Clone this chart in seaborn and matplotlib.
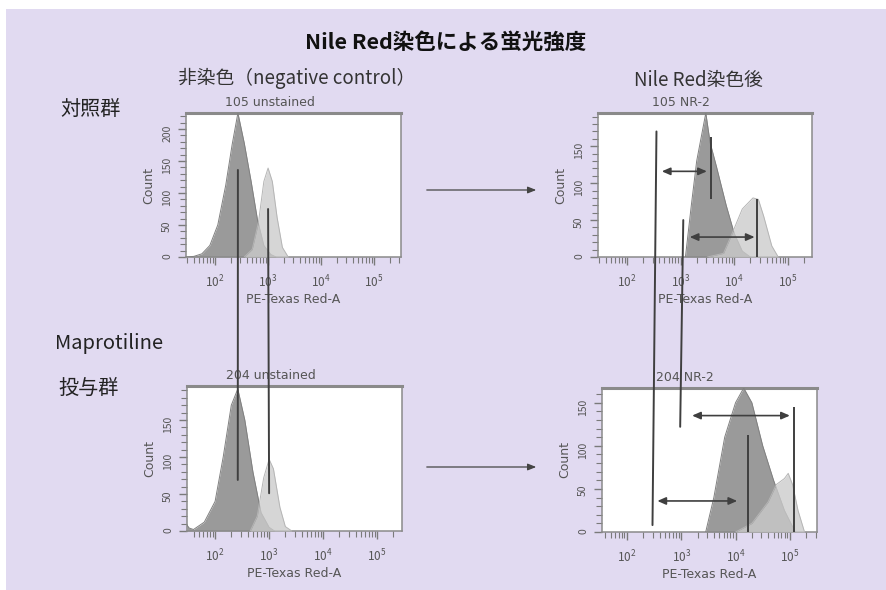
import numpy as np
import matplotlib
matplotlib.use("Agg")
import matplotlib.pyplot as plt
import seaborn as sns
from matplotlib.patches import Rectangle, ConnectionPatch, FancyArrowPatch
from matplotlib.ticker import LogLocator, MultipleLocator, NullFormatter

# ---- histogram data: log10(PE-Texas Red-A) and Count ----
# 105 unstained
tl_dark_lx = [1.45, 1.6, 1.75, 1.9, 2.05, 2.2, 2.32, 2.43, 2.55, 2.68, 2.8, 2.92, 3.05, 3.15]
tl_dark_ct = [0, 1, 5, 18, 50, 112, 175, 225, 178, 118, 58, 18, 4, 0]
tl_light_lx = [2.55, 2.7, 2.82, 2.92, 3.0, 3.08, 3.17, 3.27, 3.38]
tl_light_ct = [0, 12, 55, 118, 139, 118, 62, 15, 0]
# 204 unstained
bl_dark_lx = [1.48, 1.52, 1.6, 1.8, 2.0, 2.15, 2.3, 2.42, 2.55, 2.7, 2.85, 3.0, 3.1]
bl_dark_ct = [8, 4, 2, 12, 40, 100, 170, 192, 150, 80, 25, 5, 0]
bl_light_lx = [2.65, 2.78, 2.9, 3.0, 3.08, 3.2, 3.3, 3.42]
bl_light_ct = [0, 20, 72, 97, 84, 32, 6, 0]
# 105 NR-2
tr_dark_lx = [3.09, 3.2, 3.3, 3.47, 3.55, 3.67, 3.85, 4.0, 4.15, 4.3]
tr_dark_ct = [0, 70, 130, 195, 155, 122, 70, 32, 8, 0]
tr_light_lx = [3.5, 3.8, 3.95, 4.15, 4.35, 4.45, 4.55, 4.7, 4.82]
tr_light_ct = [0, 5, 30, 65, 80, 78, 55, 15, 0]
# 204 NR-2
br_dark_lx = [3.45, 3.6, 3.8, 4.0, 4.15, 4.3, 4.5, 4.7, 4.9, 5.1]
br_dark_ct = [0, 40, 110, 150, 167, 150, 100, 60, 25, 0]
br_light_lx = [4.0, 4.3, 4.6, 4.75, 4.9, 4.97, 5.05, 5.15, 5.27]
br_light_ct = [0, 10, 35, 55, 62, 68, 55, 25, 0]

# ---- gates / markers ----
tr_gate_lx = [3.57, 4.43]
tr_gate_top = [162, 78]
tr_gate_bot = [78, 0]
br_gate_lx = [4.22, 5.08]
br_gate_top = [112, 145]
br_gate_bot = [0, 0]
tr_arrow_y = [116, 27]
tr_arrow_lo = [2.65, 3.17]
tr_arrow_hi = [3.49, 4.38]
br_arrow_y = [135, 36]
br_arrow_lo = [3.2, 2.56]
br_arrow_hi = [5.0, 4.03]
# lines that run from the upper to the lower panel
left_link_lx_a = [2.43, 3.0]
left_link_ct_a = [136, 75]
left_link_lx_b = [2.42, 3.0]
left_link_ct_b = [69, 51]
right_link_lx_a = [2.55, 3.05]
right_link_ct_a = [170, 50]
right_link_lx_b = [2.47, 2.98]
right_link_ct_b = [8, 122]

titles = ["105 unstained", "204 unstained", "105 NR-2", "204 NR-2"]
xlims = [(1.45, 5.51), (1.48, 5.46), (1.46, 5.45), (1.54, 5.5)]
ylims = [225, 196, 195, 167]

sns.set_style("ticks")
plt.rcParams['font.family'] = ['Noto Sans CJK JP', 'DejaVu Sans']

W, H = 886, 590
fig = plt.figure(figsize=(W / 100, H / 100), dpi=100)
fig.patch.set_facecolor("white")
fig.add_artist(Rectangle((6 / W, 0), 1 - 6 / W, 1 - 9 / H, transform=fig.transFigure,
                         facecolor="#E1DAF1", edgecolor="none", zorder=-10))

def box(l, t, r, b):
    return [l / W, 1 - b / H, (r - l) / W, (b - t) / H]

ax_tl = fig.add_axes(box(186, 113, 401, 257))
ax_bl = fig.add_axes(box(187, 386, 402, 531))
ax_tr = fig.add_axes(box(598, 113, 812, 257))
ax_br = fig.add_axes(box(602, 388, 817, 532))
axes = [ax_tl, ax_bl, ax_tr, ax_br]

hists = [(tl_dark_lx, tl_dark_ct, tl_light_lx, tl_light_ct),
         (bl_dark_lx, bl_dark_ct, bl_light_lx, bl_light_ct),
         (tr_dark_lx, tr_dark_ct, tr_light_lx, tr_light_ct),
         (br_dark_lx, br_dark_ct, br_light_lx, br_light_ct)]

gray_txt = "#555555"
for i, ax in enumerate(axes):
    dlx, dct, llx, lct = hists[i]
    dx = 10 ** np.array(dlx)
    lx = 10 ** np.array(llx)
    ax.fill_between(dx, dct, color="#9a9a9a", lw=0, zorder=2)
    sns.lineplot(x=dx, y=dct, ax=ax, color="#808080", lw=0.7, zorder=3)
    ax.fill_between(lx, lct, color="#cbcbcb", alpha=0.78, lw=0, zorder=4)
    sns.lineplot(x=lx, y=lct, ax=ax, color="#b5b5b5", lw=0.7, zorder=5)

    ax.set_xscale("log")
    ax.set_xlim(10 ** xlims[i][0], 10 ** xlims[i][1])
    ax.set_ylim(0, ylims[i])
    ax.set_facecolor("white")
    ax.xaxis.set_major_locator(LogLocator(base=10, numticks=10))
    ax.xaxis.set_minor_locator(LogLocator(base=10, subs=np.arange(2, 10), numticks=10))
    ax.xaxis.set_minor_formatter(NullFormatter())
    ax.yaxis.set_major_locator(MultipleLocator(50))
    ax.yaxis.set_minor_locator(MultipleLocator(10))
    ax.tick_params(which="both", direction="out", color="#7a7a7a", labelcolor=gray_txt)
    ax.tick_params(which="major", length=6, width=1)
    ax.tick_params(which="minor", length=4, width=0.8)
    ax.tick_params(axis="x", labelsize=8.5, pad=6)
    ax.tick_params(axis="y", labelsize=7.5, labelrotation=90, pad=4)
    for s in ax.spines.values():
        s.set_color("#8a8a8a")
        s.set_linewidth(1.1)
    ax.spines["top"].set_linewidth(2.2)
    ax.set_xlabel("PE-Texas Red-A", fontsize=9, color=gray_txt, family="DejaVu Sans", labelpad=2)
    ax.set_ylabel("Count", fontsize=9, color=gray_txt, family="DejaVu Sans", labelpad=5)
    ax.text(0.18 if i < 2 else 0.25, 1.025, titles[i], transform=ax.transAxes,
            ha="left", va="bottom", fontsize=9, color=gray_txt, family="DejaVu Sans")

line_c = "#3f3f3f"
# gates and range arrows
for ax, glx, gtop, gbot, ay, alo, ahi in [
        (ax_tr, tr_gate_lx, tr_gate_top, tr_gate_bot, tr_arrow_y, tr_arrow_lo, tr_arrow_hi),
        (ax_br, br_gate_lx, br_gate_top, br_gate_bot, br_arrow_y, br_arrow_lo, br_arrow_hi)]:
    ax.vlines(10 ** np.array(glx), gbot, gtop, color=line_c, lw=1.4, zorder=6)
    for y, lo, hi in zip(ay, alo, ahi):
        ax.annotate("", xy=(10 ** hi, y), xytext=(10 ** lo, y), zorder=6,
                    arrowprops=dict(arrowstyle="<|-|>,head_length=0.5,head_width=0.22",
                                    color=line_c, lw=1.2, shrinkA=0, shrinkB=0))

# long lines crossing from upper to lower panels
for axa, axb, xa, ya, xb, yb in [
        (ax_tl, ax_bl, left_link_lx_a, left_link_ct_a, left_link_lx_b, left_link_ct_b),
        (ax_tr, ax_br, right_link_lx_a, right_link_ct_a, right_link_lx_b, right_link_ct_b)]:
    for k in range(len(xa)):
        con = ConnectionPatch(xyA=(10 ** xa[k], ya[k]), coordsA="data", axesA=axa,
                              xyB=(10 ** xb[k], yb[k]), coordsB="data", axesB=axb,
                              color=line_c, lw=1.4, zorder=20)
        fig.add_artist(con)

# arrows between the columns
for y in [190, 467]:
    fig.add_artist(FancyArrowPatch((424 / W, 1 - y / H), (539 / W, 1 - y / H),
                                   transform=fig.transFigure,
                                   arrowstyle="-|>,head_length=0.5,head_width=0.2",
                                   mutation_scale=10, color="#444444", lw=0.9))

fig.text(0.503, 1 - 42 / H, "Nile Red染色による蛍光強度", ha="center", va="center",
         fontsize=15.5, fontweight="bold", color="#111111")
fig.text(297 / W, 1 - 78 / H, "非染色（negative control）", ha="center", va="center",
         fontsize=13.5, color="#333333")
fig.text(698 / W, 1 - 81 / H, "Nile Red染色後", ha="center", va="center",
         fontsize=13.5, color="#333333")
fig.text(60 / W, 1 - 109 / H, "対照群", ha="left", va="center", fontsize=14.5, color="#222222")
fig.text(55 / W, 1 - 344 / H, "Maprotiline", ha="left", va="center", fontsize=14.5, color="#222222")
fig.text(58 / W, 1 - 388 / H, "投与群", ha="left", va="center", fontsize=14.5, color="#222222")

fig.savefig("out.png", dpi=100)
